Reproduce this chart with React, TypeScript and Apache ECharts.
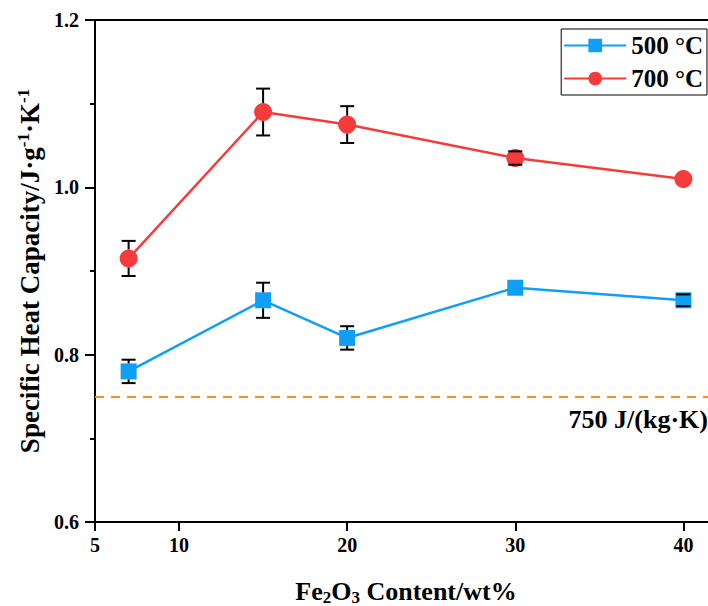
import React, { useEffect, useRef } from 'react';
import * as echarts from 'echarts';

const xValues = [7, 15, 20, 30, 40];
const cp500 = [0.78, 0.865, 0.82, 0.88, 0.865];
const err500 = [0.014, 0.021, 0.014, 0.0, 0.007];
const cp700 = [0.915, 1.09, 1.075, 1.035, 1.01];
const err700 = [0.021, 0.028, 0.022, 0.008, 0.0];
const xTicks = [5, 10, 20, 30, 40];
const referenceValue = 0.75;
const referenceLabel = '750 J/(kg·K)';
const seriesNames = ['500 °C', '700 °C'];

const FONT = '"Liberation Serif", "Times New Roman", serif';
const BLUE = '#0f9ff5';
const RED = '#f53b3b';
const ORANGE = '#ff8c2a';

const makeErrorBar = (radius: number) => (params: any, api: any) => {
  const x = api.value(0);
  const y = api.value(1);
  const e = api.value(2);
  if (!e) return { type: 'group', children: [] };
  const c = api.coord([x, y]);
  const top = api.coord([x, y + e])[1];
  const bot = api.coord([x, y - e])[1];
  const cap = 7;
  const style = { stroke: '#000', lineWidth: 2 };
  const children: any[] = [
    { type: 'line', shape: { x1: c[0] - cap, y1: top, x2: c[0] + cap, y2: top }, style },
    { type: 'line', shape: { x1: c[0] - cap, y1: bot, x2: c[0] + cap, y2: bot }, style },
  ];
  if (c[1] - top > radius) {
    children.push({ type: 'line', shape: { x1: c[0], y1: top, x2: c[0], y2: c[1] - radius }, style });
  }
  if (bot - c[1] > radius) {
    children.push({ type: 'line', shape: { x1: c[0], y1: c[1] + radius, x2: c[0], y2: bot }, style });
  }
  return { type: 'group', children };
};

export default function App() {
  const ref = useRef<HTMLDivElement>(null);
  useEffect(() => {
    if (!ref.current) return;
    const chart = echarts.init(ref.current, null, { renderer: 'svg' });
    const axisLine = { show: true, lineStyle: { color: '#000', width: 2 } };
    const option: any = {
      animation: false,
      backgroundColor: '#fff',
      textStyle: { fontFamily: FONT },
      grid: { left: 95, top: 20, width: 622, height: 502, containLabel: false, outerBoundsMode: 'none' },
      legend: {
        data: seriesNames,
        orient: 'vertical',
        right: 1,
        top: 29,
        padding: [4, 4, 4, 2],
        itemGap: 8,
        itemWidth: 62,
        itemHeight: 17,
        borderColor: '#000',
        borderWidth: 1,
        backgroundColor: '#fff',
        textStyle: { fontFamily: FONT, fontWeight: 'bold', fontSize: 25, color: '#000' },
      },
      xAxis: [
        {
          type: 'value',
          min: 5,
          max: 42,
          name: '{n|Fe}{s|2}{n|O}{s|3}{n| Content/wt%}',
          nameLocation: 'middle',
          nameGap: 55,
          nameTextStyle: {
            rich: {
              n: { fontFamily: FONT, fontWeight: 'bold', fontSize: 26, color: '#000' },
              s: { fontFamily: FONT, fontWeight: 'bold', fontSize: 17, color: '#000', verticalAlign: 'bottom', padding: [12, 0, 0, 0] },
            },
          },
          axisLine,
          axisTick: { show: true, length: 9, lineStyle: { color: '#000', width: 2 }, customValues: xTicks },
          axisLabel: {
            customValues: xTicks,
            fontFamily: FONT,
            fontWeight: 'bold',
            fontSize: 20,
            color: '#000',
            margin: 13,
          },
          splitLine: { show: false },
        },
        {
          type: 'value',
          position: 'top',
          min: 5,
          max: 42,
          axisLine,
          axisTick: { show: false },
          axisLabel: { show: false },
          splitLine: { show: false },
        },
      ],
      yAxis: {
        type: 'value',
        min: 0.6,
        max: 1.2,
        interval: 0.2,
        name: '{n|Specific Heat Capacity/J·g}{s|-1}{n|·K}{s|-1}',
        nameLocation: 'middle',
        nameGap: 50,
        nameRotate: 90,
        nameTextStyle: {
          rich: {
            n: { fontFamily: FONT, fontWeight: 'bold', fontSize: 27, color: '#000' },
            s: { fontFamily: FONT, fontWeight: 'bold', fontSize: 17, color: '#000', verticalAlign: 'top', padding: [0, 0, 12, 0] },
          },
        },
        axisLine,
        axisTick: { show: true, length: 10, lineStyle: { color: '#000', width: 2 } },
        minorTick: { show: true, splitNumber: 2, length: 5, lineStyle: { color: '#000', width: 2 } },
        axisLabel: {
          fontFamily: FONT,
          fontWeight: 'bold',
          fontSize: 20,
          color: '#000',
          margin: 16,
          formatter: (v: number) => v.toFixed(1),
        },
        splitLine: { show: false },
      },
      series: [
        {
          name: seriesNames[0],
          type: 'line',
          data: xValues.map((x, i) => [x, cp500[i]]),
          symbol: 'rect',
          symbolSize: 16,
          itemStyle: { color: BLUE },
          lineStyle: { color: BLUE, width: 2.5 },
          z: 2,
          markLine: {
            silent: true,
            symbol: 'none',
            label: { show: false },
            lineStyle: { color: ORANGE, width: 2, type: [9, 7] },
            data: [{ yAxis: referenceValue }],
          },
        },
        {
          name: seriesNames[1],
          type: 'line',
          data: xValues.map((x, i) => [x, cp700[i]]),
          symbol: 'circle',
          symbolSize: 18,
          itemStyle: { color: RED },
          lineStyle: { color: RED, width: 2.5 },
          z: 2,
        },
        {
          name: 'err500',
          type: 'custom',
          renderItem: makeErrorBar(8),
          data: xValues.map((x, i) => [x, cp500[i], err500[i]]),
          encode: { x: 0, y: 1 },
          z: 3,
        },
        {
          name: 'err700',
          type: 'custom',
          renderItem: makeErrorBar(9),
          data: xValues.map((x, i) => [x, cp700[i], err700[i]]),
          encode: { x: 0, y: 1 },
          z: 3,
        },
      ],
      graphic: [
        {
          type: 'text',
          right: 0,
          top: 406,
          style: {
            text: referenceLabel,
            fontFamily: FONT,
            fontWeight: 'bold',
            fontSize: 26,
            fill: '#000',
          },
        },
      ],
    };
    chart.setOption(option);
    return () => chart.dispose();
  }, []);
  return <div ref={ref} style={{ position: 'absolute', left: 0, top: 0, width: 708, height: 606 }} />;
}
